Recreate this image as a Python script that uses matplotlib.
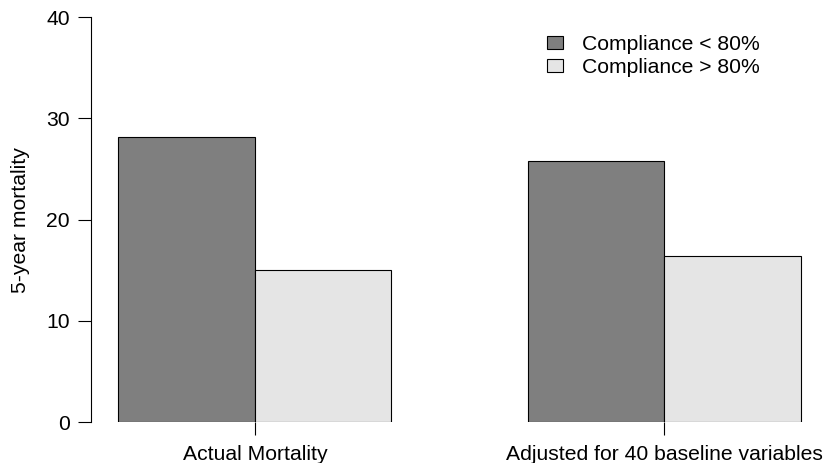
import numpy as np
import matplotlib
matplotlib.use("Agg")
import matplotlib.pyplot as plt
from matplotlib.patches import Patch

plt.rcParams['font.family'] = ['Liberation Sans', 'DejaVu Sans']

groups = ["Actual Mortality", "Adjusted for 40 baseline variables"]
series = ["Compliance < 80%", "Compliance > 80%"]
low_compliance = [28.2, 25.8]
high_compliance = [15.0, 16.4]
colors = ["#7f7f7f", "#e5e5e5"]

W, H = 833, 463
fig = plt.figure(figsize=(W / 100, H / 100), dpi=100)
# plot region in pixels: x 91..828, y 0 at 422, 40 at 17
ax = fig.add_axes([91 / W, (H - 422) / H, (828.3 - 91) / W, (422 - 17.3) / H])

values = [low_compliance, high_compliance]
n_series = len(series)
# barplot(beside=TRUE) layout: unit bars, one-bar gap before each group
for s in range(n_series):
    xs = [g * (n_series + 1) + s + 1.5 for g in range(len(groups))]
    ax.bar(xs, values[s], width=1.0, color=colors[s], edgecolor="black",
           linewidth=0.8, zorder=2)

centers = [g * (n_series + 1) + 1 + n_series / 2 for g in range(len(groups))]
ax.set_xticks(centers)
ax.set_xticklabels(groups)
ax.set_xlim(0.8, 6.2)
ax.set_ylim(0, 40)
ax.set_yticks([0, 10, 20, 30, 40])

for side in ["top", "right", "bottom"]:
    ax.spines[side].set_visible(False)
ax.spines["left"].set_bounds(0, 40)
ax.spines["left"].set_linewidth(0.8)

ax.tick_params(axis="both", length=9.4, width=0.8, labelsize=15.2, color="black")
ax.tick_params(axis="y", pad=5.8)
ax.tick_params(axis="x", pad=7)

ax.set_ylabel("5-year mortality", fontsize=15.2)
ax.yaxis.set_label_coords(-0.0834, 0.5)

handles = [Patch(facecolor=c, edgecolor="black", linewidth=0.8) for c in colors]
ax.legend(handles, series, loc="upper left", bbox_to_anchor=(0.618, 0.957),
          frameon=False, fontsize=15.2, handlelength=0.76, handleheight=0.57,
          handletextpad=0.9, labelspacing=0.2, borderpad=0, borderaxespad=0)

fig.savefig("out.png", dpi=100)
